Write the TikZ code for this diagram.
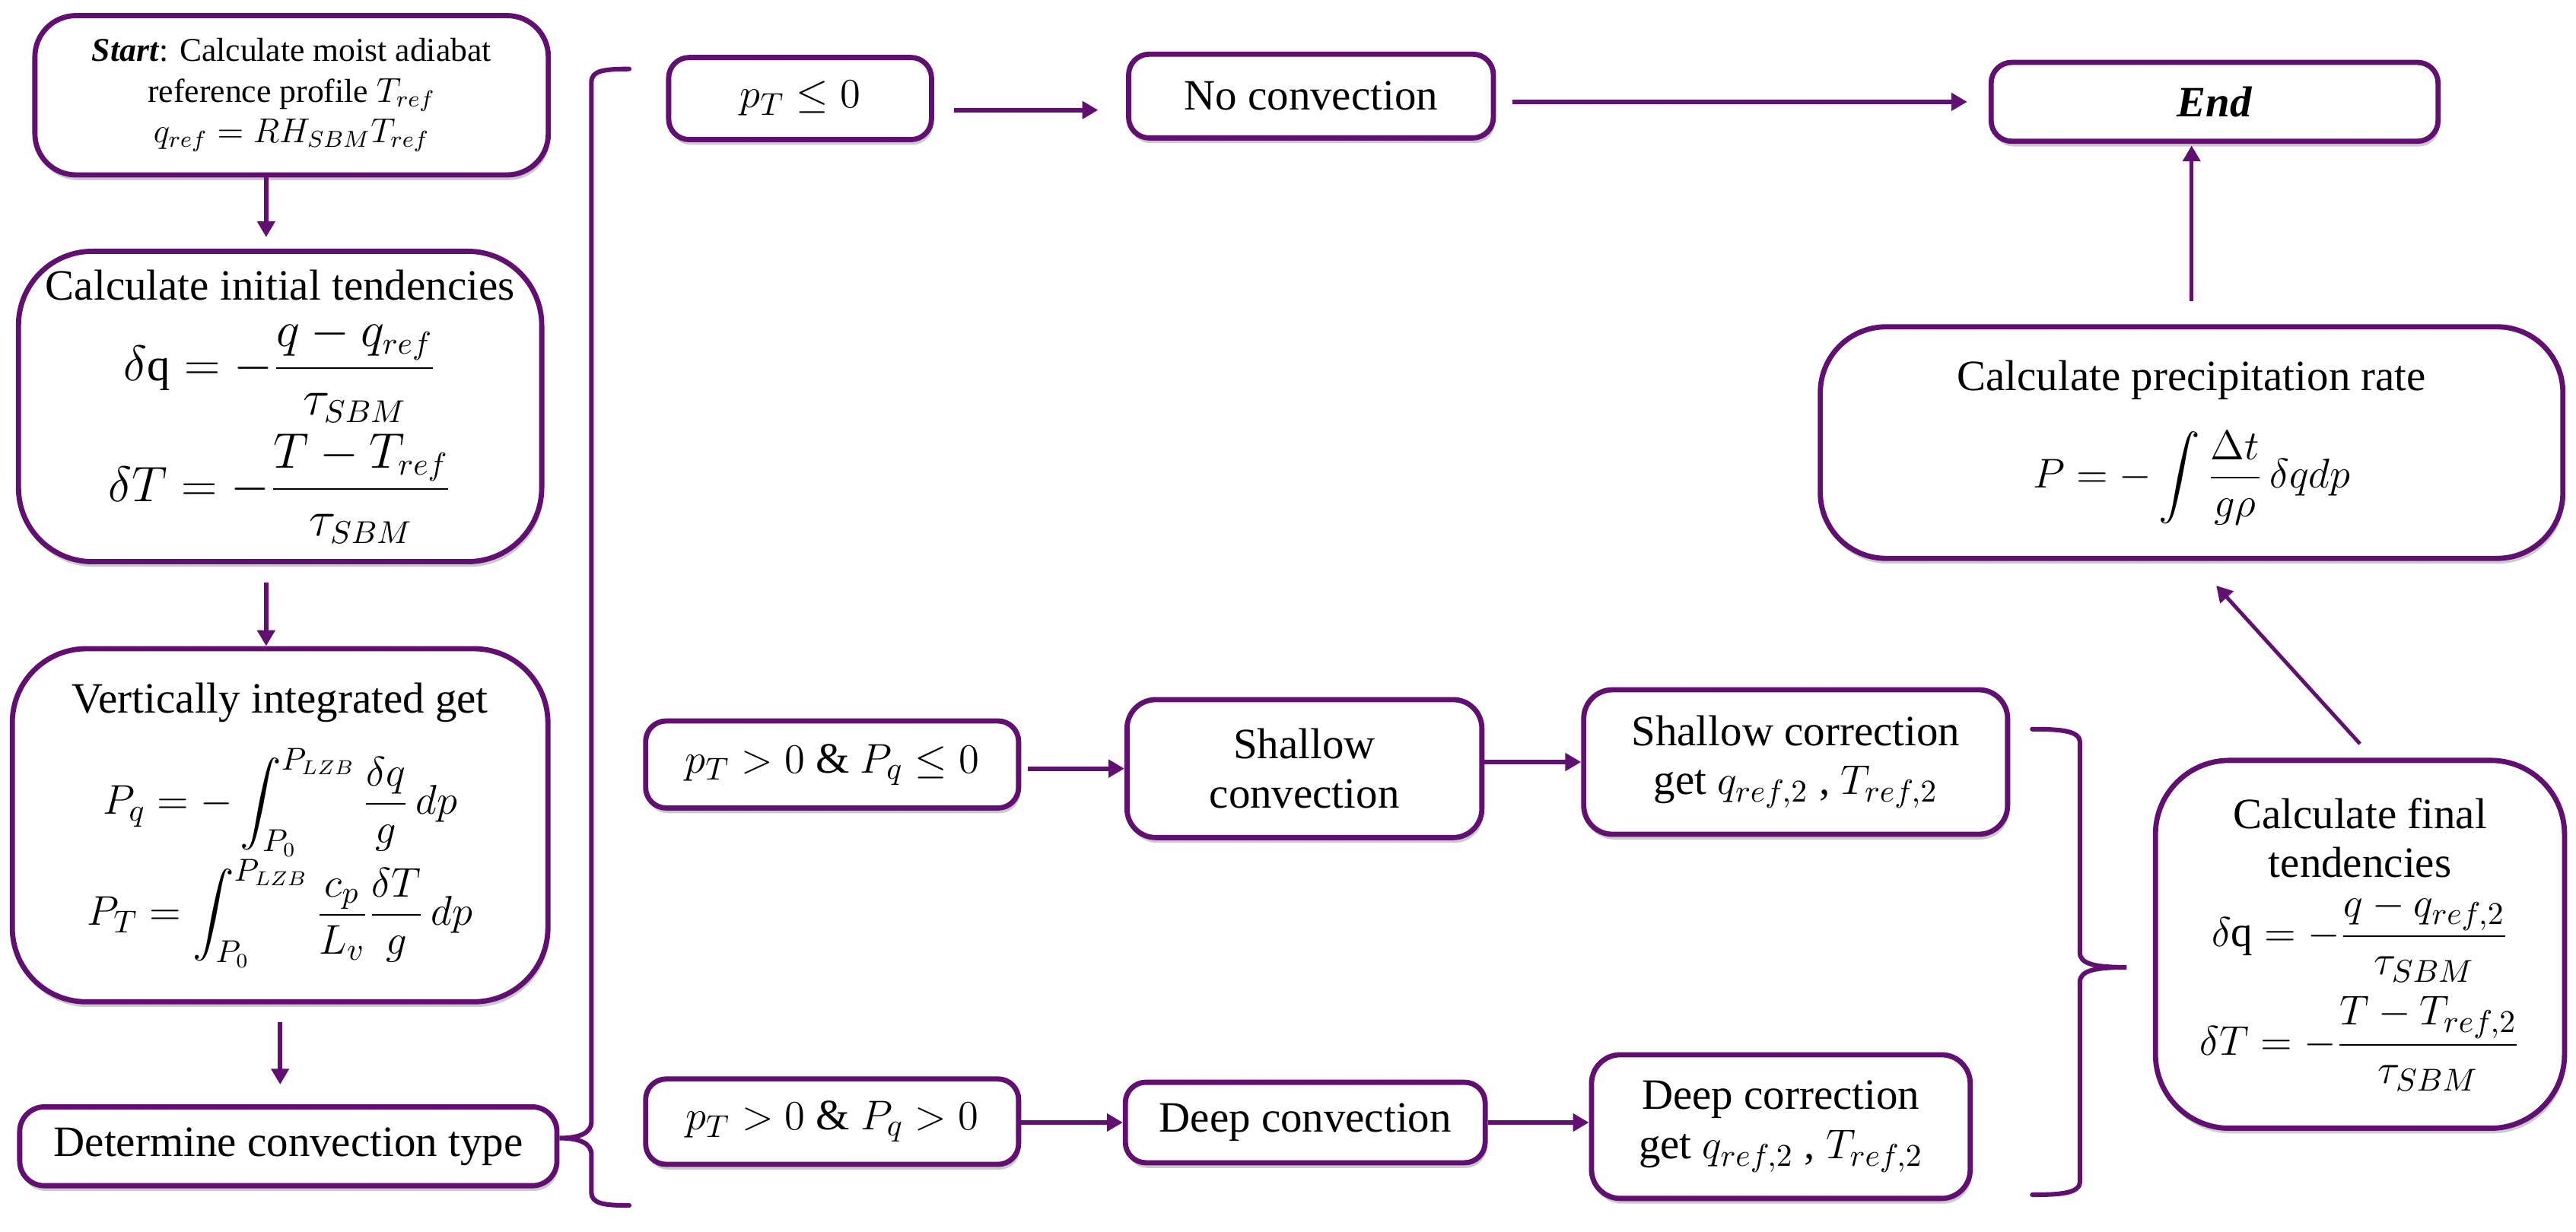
\documentclass[tikz,border=0pt]{standalone}
\usepackage{amsmath}
\usepackage{fontspec}
\setmainfont{Liberation Serif}
\usetikzlibrary{arrows.meta,positioning,shadows}
\definecolor{schemepurple}{RGB}{97,15,112}
\newcommand{\eqsize}{\fontsize{16}{19}\selectfont}

\begin{document}
\begin{tikzpicture}[>={Triangle[length=5.5pt,width=6pt]},
  box/.style={draw=schemepurple,line width=1.8pt,fill=white,align=center,
    rounded corners=#1,inner sep=2pt,font=\fontsize{15}{17}\selectfont,
    drop shadow={shadow xshift=0.5pt,shadow yshift=-1.8pt,opacity=0.35,fill=black!60}},
  box/.default=2.5mm,
  arr/.style={->,draw=schemepurple,line width=1.6pt},
  brace/.style={draw=schemepurple,line width=1.6pt,line cap=round}]
  \useasboundingbox (0,0) rectangle (31.36,-15);

  % left column
  \node[box=5mm,minimum width=6.25cm,minimum height=1.94cm,
    font=\fontsize{11.5}{14}\selectfont] (start) at (3.55,-1.16)
    {\textbf{\textit{Start}}: Calculate moist adiabat\\
     reference profile $T_{ref}$\\ $q_{ref}=RH_{SBM}T_{ref}$};
  \node[box=9mm,minimum width=6.37cm,minimum height=3.78cm] (init) at (3.41,-4.95)
    {Calculate initial tendencies\\[5pt]
     {\eqsize$\displaystyle \delta\mathrm{q}=-\frac{q-q_{ref}}{\tau_{SBM}}$}\\[3pt]
     {\eqsize$\displaystyle \delta T=-\frac{T-T_{ref}}{\tau_{SBM}}$}};
  \node[box=9mm,minimum width=6.52cm,minimum height=4.3cm] (vert) at (3.41,-10.05)
    {Vertically integrated get\\[8pt]
     $\displaystyle P_q=-\int_{P_0}^{P_{LZB}}\frac{\delta q}{g}\,dp$\\
     $\displaystyle P_T=\int_{P_0}^{P_{LZB}}\frac{c_p}{L_v}\frac{\delta T}{g}\,dp$};
  \node[box=3mm,minimum width=6.54cm,minimum height=0.96cm] (determ) at (3.51,-13.96)
    {Determine convection type};

  % convection branches
  \node[box,minimum width=3.2cm,minimum height=1cm] (pTle) at (9.74,-1.2) {$p_T\le 0$};
  \node[box,minimum width=4.44cm,minimum height=1.02cm] (noconv) at (15.96,-1.17)
    {No convection};
  \node[box,minimum width=4.54cm,minimum height=1.06cm] (shcond) at (10.13,-9.31)
    {$p_T>0$ \& $P_q\le 0$};
  \node[box=3.5mm,minimum width=4.32cm,minimum height=1.68cm] (shconv) at (15.88,-9.36)
    {Shallow\\ convection};
  \node[box=3.5mm,minimum width=5.16cm,minimum height=1.76cm] (shcorr) at (21.86,-9.28)
    {Shallow correction\\ get $q_{ref,2}$ , $T_{ref,2}$};
  \node[box,minimum width=4.54cm,minimum height=1.04cm] (dpcond) at (10.13,-13.66)
    {$p_T>0$ \& $P_q>0$};
  \node[box,minimum width=4.38cm,minimum height=0.98cm] (dpconv) at (15.89,-13.67)
    {Deep convection};
  \node[box=3.5mm,minimum width=4.61cm,minimum height=1.75cm] (dpcorr) at (21.68,-13.72)
    {Deep correction\\ get $q_{ref,2}$ , $T_{ref,2}$};

  % right column
  \node[box,minimum width=5.44cm,minimum height=0.96cm] (end) at (26.96,-1.24)
    {\textbf{\textit{End}}};
  \node[box=8mm,minimum width=9.04cm,minimum height=2.82cm] (precip) at (26.68,-5.39)
    {Calculate precipitation rate\\[10pt]
     $\displaystyle P=-\int\frac{\Delta t}{g\rho}\,\delta q dp$};
  \node[box=9mm,minimum width=4.98cm,minimum height=4.48cm] (final) at (28.73,-11.5)
    {Calculate final\\ tendencies\\[4pt]
     $\displaystyle \delta\mathrm{q}=-\frac{q-q_{ref,2}}{\tau_{SBM}}$\\[4pt]
     $\displaystyle \delta T=-\frac{T-T_{ref,2}}{\tau_{SBM}}$};

  % arrows
  \draw[arr,shorten >=1.4mm] ([xshift=-3.1mm]start.south) -- ([xshift=-3.1mm]start.south |- init.north);
  \draw[arr,shorten <=2.2mm] ([xshift=-1.7mm]init.south) -- ([xshift=-1.7mm]init.south |- vert.north);
  \draw[arr,shorten <=2.2mm,shorten >=2.4mm] (vert.south) -- (vert.south |- determ.north);
  \draw[arr,shorten <=2.4mm,shorten >=3.4mm] ([yshift=-1.4mm]pTle.east) -- ([yshift=-1.4mm]pTle.east -| noconv.west);
  \draw[arr,shorten <=2mm,shorten >=2.6mm] (noconv.east |- end.west) -- (end.west);
  \draw[arr,shorten <=0.8mm] (shcond.east |- shconv.west) -- (shconv.west);
  \draw[arr] (shconv.east |- shcorr.west) -- (shcorr.west);
  \draw[arr] (dpcond.east |- dpconv.west) -- (dpconv.west);
  \draw[arr] (dpconv.east) -- (dpconv.east -| dpcorr.west);
  \draw[arr,line width=1.3pt] ([yshift=1.7mm]final.north) -- ([shift={(3mm,-3mm)}]precip.south);
  \draw[arr,line width=1.3pt,shorten >=3mm] ([yshift=2.8mm]precip.north) -- ([yshift=2.8mm]precip.north |- end.south);

  % braces
  \coordinate (ltip) at ([yshift=1mm]determ.east);
  \draw[brace] (7.66,-0.84) .. controls (7.35,-0.84) and (7.2,-0.86) .. (7.2,-1.0)
    -- (7.2,-13.66) .. controls (7.2,-13.8) and (7.05,-13.86) .. (ltip)
    .. controls (7.05,-13.86) and (7.2,-13.92) .. (7.2,-14.06)
    -- (7.2,-14.52) .. controls (7.2,-14.66) and (7.35,-14.68) .. (7.66,-14.68);
  \coordinate (rtip) at ([xshift=-3.2mm,yshift=-2.8mm]final.west);
  \draw[brace] (24.74,-8.88) .. controls (25.1,-8.88) and (25.32,-8.9) .. (25.32,-9.04)
    -- (25.32,-11.6) .. controls (25.32,-11.74) and (25.5,-11.78) .. (rtip)
    .. controls (25.5,-11.78) and (25.32,-11.82) .. (25.32,-11.96)
    -- (25.32,-14.39) .. controls (25.32,-14.53) and (25.1,-14.55) .. (24.74,-14.55);
\end{tikzpicture}
\end{document}
